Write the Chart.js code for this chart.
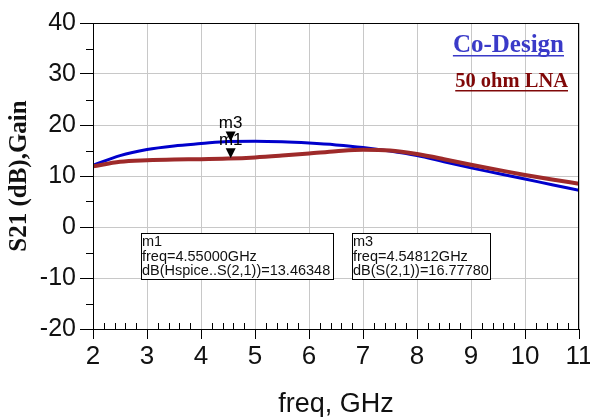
<!DOCTYPE html>
<html>
<head>
<meta charset="utf-8">
<title>S21 Gain</title>
<script src="https://cdn.jsdelivr.net/npm/chart.js@4.4.0/dist/chart.umd.min.js"></script>
<style>
  html, body { margin: 0; padding: 0; background: #fff; }
</style>
</head>
<body>
<canvas id="gainChart" width="590" height="417"></canvas>
<script>
// sweep points (GHz) and S21 in dB for both amplifiers
var freqGHz = [2, 2.5, 3, 3.5, 4, 4.5, 5, 5.5, 6, 6.5, 7, 7.5, 8, 8.5, 9, 9.5, 10, 10.5, 11];
var coDesignDb = [12.1, 14.0, 15.2, 15.9, 16.35, 16.76, 16.8, 16.7, 16.45, 16.1, 15.6, 14.9, 14.0, 12.8, 11.6, 10.5, 9.4, 8.3, 7.2];
var lna50Db = [11.9, 12.8, 13.1, 13.25, 13.3, 13.42, 13.65, 14.0, 14.4, 14.85, 15.15, 15.0, 14.3, 13.3, 12.2, 11.2, 10.2, 9.3, 8.5];

var seriesNames = ['Co-Design', '50 ohm LNA'];
var lineColors = ['#0000cc', '#9e2a2a'];
var legendColors = ['#3a3ac8', '#800808'];

// marker readouts
var markerNames = ['m1', 'm3'];
var markerFreq = [4.55, 4.54812];
var markerDb = [13.46348, 16.77780];
var markerTrace = ['dB(Hspice..S(2,1))', 'dB(S(2,1))'];

var xTicks = { min: 2, max: 11, step: 1, minorStep: 0.2 };
var yTicks = { min: -20, max: 40, step: 10, minorStep: 5 };

var sansFont = "Arial, 'Liberation Sans', sans-serif";
var serifFont = "'Times New Roman', 'Liberation Serif', serif";

function toPoints(xs, ys) {
  return xs.map(function (x, i) { return { x: x, y: ys[i] }; });
}

// minor ticks, plot frame, marker triangles, readout boxes and legend
var plotExtras = {
  id: 'plotExtras',
  afterDatasetsDraw: function (chart) {
    var ctx = chart.ctx;
    var a = chart.chartArea;
    var x = chart.scales.x;
    var y = chart.scales.y;
    ctx.save();

    // frame
    ctx.strokeStyle = '#000';
    ctx.lineWidth = 1;
    ctx.strokeRect(a.left + 0.5, a.top + 0.5, a.right - a.left - 1, a.bottom - a.top);

    // minor ticks
    ctx.beginPath();
    var n = Math.round((xTicks.max - xTicks.min) / xTicks.minorStep);
    for (var i = 1; i < n; i++) {
      if (i % 5 === 0) continue;
      var px = Math.round(x.getPixelForValue(xTicks.min + i * xTicks.minorStep)) + 0.5;
      ctx.moveTo(px, a.bottom);
      ctx.lineTo(px, a.bottom - 6);
    }
    for (var v = yTicks.min + yTicks.minorStep; v < yTicks.max; v += yTicks.step) {
      var py = Math.round(y.getPixelForValue(v)) + 0.5;
      ctx.moveTo(a.left - 7, py);
      ctx.lineTo(a.left, py);
    }
    ctx.stroke();

    // marker triangles with names
    ctx.fillStyle = '#000';
    ctx.font = '17px ' + sansFont;
    ctx.textAlign = 'center';
    ctx.textBaseline = 'alphabetic';
    for (var m = 0; m < markerNames.length; m++) {
      var mx = x.getPixelForValue(markerFreq[m]);
      var my = y.getPixelForValue(markerDb[m]);
      ctx.beginPath();
      ctx.moveTo(mx, my);
      ctx.lineTo(mx - 5, my - 10);
      ctx.lineTo(mx + 5, my - 10);
      ctx.closePath();
      ctx.fill();
      ctx.fillText(markerNames[m], mx, my - 13);
    }

    // readout boxes
    var boxes = [
      { left: 141, top: 233, width: 192, height: 46 },
      { left: 352, top: 233, width: 138, height: 46 }
    ];
    ctx.font = '14.5px ' + sansFont;
    ctx.textAlign = 'left';
    ctx.textBaseline = 'middle';
    for (var b = 0; b < boxes.length; b++) {
      var bx = boxes[b];
      ctx.fillStyle = '#fff';
      ctx.fillRect(bx.left, bx.top, bx.width, bx.height);
      ctx.strokeStyle = '#000';
      ctx.strokeRect(bx.left + 0.5, bx.top + 0.5, bx.width, bx.height);
      ctx.fillStyle = '#111';
      var lines = [
        markerNames[b],
        'freq=' + markerFreq[b].toFixed(5) + 'GHz',
        markerTrace[b] + '=' + markerDb[b].toFixed(5)
      ];
      for (var l = 0; l < lines.length; l++) {
        ctx.fillText(lines[l], bx.left + 1, bx.top + 9 + l * 14.5);
      }
    }

    // legend: bold underlined names, right aligned
    var legendRows = [
      { size: 25, baseline: 52, right: 564 },
      { size: 20.5, baseline: 87, right: 568 }
    ];
    ctx.textAlign = 'right';
    ctx.textBaseline = 'alphabetic';
    chart.data.datasets.forEach(function (ds, k) {
      var row = legendRows[k];
      ctx.font = 'bold ' + row.size + 'px ' + serifFont;
      ctx.fillStyle = legendColors[k];
      ctx.fillText(ds.label, row.right, row.baseline);
      var w = ctx.measureText(ds.label).width;
      ctx.fillRect(row.right - w, row.baseline + 3, w, 1.5);
    });

    ctx.restore();
  }
};

var ctx = document.getElementById('gainChart').getContext('2d');
var gainChart = new Chart(ctx, {
  type: 'line',
  data: {
    datasets: [
      {
        label: seriesNames[0],
        data: toPoints(freqGHz, coDesignDb),
        borderColor: lineColors[0],
        borderWidth: 3,
        order: 1
      },
      {
        label: seriesNames[1],
        data: toPoints(freqGHz, lna50Db),
        borderColor: lineColors[1],
        borderWidth: 4,
        order: 0
      }
    ]
  },
  options: {
    responsive: false,
    animation: false,
    devicePixelRatio: 1,
    layout: {
      padding: { top: 23, right: 11, bottom: 0, left: 0 },
    },
    elements: {
      point: { radius: 0 },
      line: { cubicInterpolationMode: 'monotone', fill: false },
    },
    plugins: {
      legend: { display: false },
      tooltip: { enabled: false },
    },
    scales: {
      x: {
        type: 'linear',
        min: xTicks.min,
        max: xTicks.max,
        ticks: {
          stepSize: xTicks.step,
          autoSkip: false,
          maxRotation: 0,
          padding: 2,
          color: '#111',
          font: { family: sansFont, size: 26 },
        },
        grid: {
          color: '#c8c8c8',
          tickColor: '#000',
          tickLength: 10,
        },
        border: { color: '#000' },
        title: {
          display: true,
          text: 'freq, GHz',
          color: '#111',
          font: { family: sansFont, size: 27 },
          padding: { top: 0, bottom: -4 },
        },
        afterFit: function (scale) {
          scale.height = 88;
          scale.paddingLeft = 0;
          scale.paddingRight = 0;
        },
      },
      y: {
        min: yTicks.min,
        max: yTicks.max,
        ticks: {
          stepSize: yTicks.step,
          padding: 4,
          color: '#111',
          font: { family: sansFont, size: 25 },
        },
        grid: {
          color: '#c8c8c8',
          tickColor: '#000',
          tickLength: 13,
        },
        border: { color: '#000' },
        title: {
          display: true,
          text: 'S21 (dB),Gain',
          color: '#111',
          font: { family: serifFont, size: 25, weight: 'bold' },
          padding: { top: 5, bottom: 0 },
        },
        afterFit: function (scale) {
          scale.width = 93;
        },
      },
    },
  },
  plugins: [plotExtras],
});
</script>
</body>
</html>
